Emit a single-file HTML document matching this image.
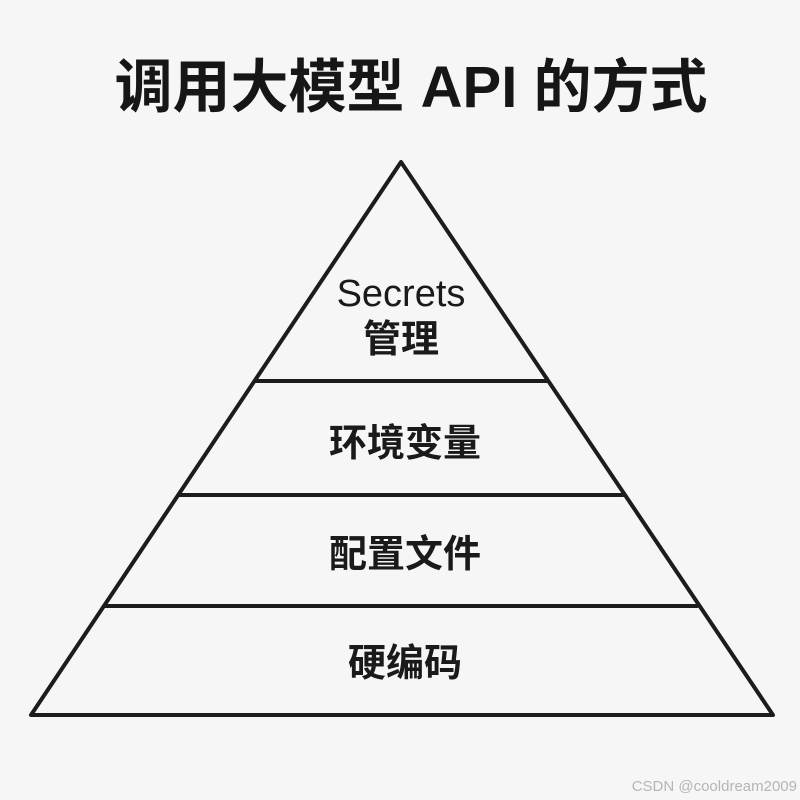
<!DOCTYPE html>
<html><head><meta charset="utf-8"><style>
html,body{margin:0;padding:0;background:#f6f6f6;}
svg{display:block}
</style></head><body>
<svg width="800" height="800" viewBox="0 0 800 800" xmlns="http://www.w3.org/2000/svg">
<rect width="800" height="800" fill="#f6f6f6"/>
<text x="411" y="107" text-anchor="middle" font-family="'Liberation Sans','Noto Sans CJK SC',sans-serif" font-weight="bold" font-size="58" fill="#161616">调用大模型 API 的方式</text>
<g stroke="#1c1c1c" stroke-width="4" fill="none" stroke-linejoin="round" stroke-linecap="round">
<polygon points="401,162 31,715 773,715"/>
<line x1="255" y1="381" x2="547" y2="381"/>
<line x1="179" y1="495" x2="623" y2="495"/>
<line x1="105" y1="606" x2="697" y2="606"/>
</g>
<g font-family="'Liberation Sans','Noto Sans CJK SC',sans-serif" font-size="38" fill="#1a1a1a" text-anchor="middle" font-weight="bold">
<text x="401" y="306" font-weight="normal">Secrets</text>
<text x="401" y="352">管理</text>
<text x="405" y="456">环境变量</text>
<text x="405" y="567">配置文件</text>
<text x="405" y="676">硬编码</text>
</g>
<text x="797" y="791" text-anchor="end" font-family="'Liberation Sans',sans-serif" font-size="15" fill="#b5b5b5">CSDN @cooldream2009</text>
</svg>
</body></html>
